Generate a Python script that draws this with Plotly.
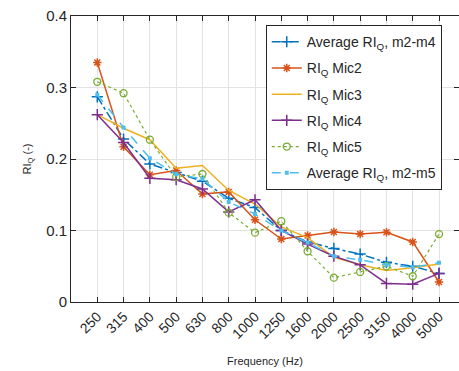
import plotly.graph_objects as go

freqs = ["250", "315", "400", "500", "630", "800", "1000", "1250", "1600", "2000", "2500", "3150", "4000", "5000"]

avg_m2_m4 = [0.287, 0.228, 0.193, 0.181, 0.169, 0.145, 0.132, 0.100, 0.084, 0.075, 0.067, 0.0555, 0.050, 0.040]
mic2 = [0.335, 0.217, 0.178, 0.184, 0.151, 0.154, 0.115, 0.088, 0.093, 0.098, 0.095, 0.0975, 0.084, 0.028]
mic3 = [0.262, 0.243, 0.227, 0.187, 0.191, 0.156, 0.137, 0.105, 0.090, 0.0625, 0.052, 0.044, 0.048, 0.053]
mic4 = [0.262, 0.223, 0.173, 0.171, 0.158, 0.126, 0.143, 0.100, 0.081, 0.064, 0.052, 0.026, 0.025, 0.040]
mic5 = [0.308, 0.292, 0.227, 0.175, 0.179, 0.125, 0.097, 0.113, 0.071, 0.034, 0.042, 0.050, 0.036, 0.095]
avg_m2_m5 = [0.290, 0.244, 0.201, 0.179, 0.172, 0.140, 0.123, 0.100, 0.083, 0.064, 0.059, 0.052, 0.0485, 0.055]

x = list(range(len(freqs)))

fig = go.Figure()
fig.add_trace(go.Scatter(x=x, y=avg_m2_m4, name="Average RI<sub>Q</sub>, m2-m4", mode="lines+markers", legendgroup="a",
                         line=dict(color="#0072BD", width=1.5, dash="dashdot"),
                         marker=dict(symbol="cross-thin-open", size=8, line=dict(color="#0072BD", width=1.5))))
fig.add_trace(go.Scatter(x=x, y=mic2, name="RI<sub>Q</sub> Mic2", mode="lines+markers", legendgroup="b",
                         line=dict(color="#D95319", width=1.5),
                         marker=dict(symbol="asterisk-open", size=7, line=dict(color="#D95319", width=1.5))))
fig.add_trace(go.Scatter(x=x, y=mic3, name="RI<sub>Q</sub> Mic3", mode="lines", legendgroup="c",
                         line=dict(color="#EDB120", width=1.5)))
fig.add_trace(go.Scatter(x=x, y=mic4, name="RI<sub>Q</sub> Mic4", mode="lines+markers", legendgroup="d",
                         line=dict(color="#7E2F8E", width=1.5),
                         marker=dict(symbol="cross-thin-open", size=8, line=dict(color="#7E2F8E", width=1.5))))
fig.add_trace(go.Scatter(x=x, y=mic5, name="RI<sub>Q</sub> Mic5", mode="lines+markers", legendgroup="e",
                         line=dict(color="#77AC30", width=1.2, dash="dot"),
                         marker=dict(symbol="circle-open", size=7, line=dict(color="#77AC30", width=1.3))))
fig.add_trace(go.Scatter(x=x, y=avg_m2_m5, name="Average RI<sub>Q</sub>, m2-m5", mode="lines+markers", legendgroup="f",
                         line=dict(color="#4DBEEE", width=1.5, dash="dash"),
                         marker=dict(symbol="square", size=4, color="#4DBEEE")))

axis_color = "#262626"
fig.update_layout(
    width=459, height=371,
    margin=dict(l=71, r=0, t=16, b=69),
    paper_bgcolor="white", plot_bgcolor="white",
    font=dict(family="Liberation Sans, Arial, sans-serif", color=axis_color),
    legend=dict(x=0.502, y=0.968, xanchor="left", yanchor="top",
                bgcolor="white", bordercolor=axis_color, borderwidth=1,
                font=dict(size=14, color=axis_color), tracegroupgap=5, itemwidth=30),
    xaxis=dict(
        tickmode="array", tickvals=x, ticktext=freqs, tickangle=-45,
        range=[-1, 13.76], showgrid=True, gridcolor="#e3e3e3", gridwidth=1,
        showline=True, linecolor=axis_color, linewidth=1, mirror="ticks",
        ticks="inside", ticklen=5, tickcolor=axis_color,
        tickfont=dict(size=14), zeroline=False,
        title=dict(text="Frequency (Hz)", font=dict(size=11), standoff=16),
    ),
    yaxis=dict(
        range=[0, 0.4], tickvals=[0, 0.1, 0.2, 0.3, 0.4], ticktext=["0", "0.1", "0.2", "0.3", "0.4"],
        showgrid=True, gridcolor="#e3e3e3", gridwidth=1,
        showline=True, linecolor=axis_color, linewidth=1, mirror="ticks",
        ticks="inside", ticklen=5, tickcolor=axis_color,
        tickfont=dict(size=15), zeroline=False,
        title=dict(text="RI<sub>Q</sub> (-)", font=dict(size=11), standoff=12),
    ),
)

fig.write_html("out.html")
